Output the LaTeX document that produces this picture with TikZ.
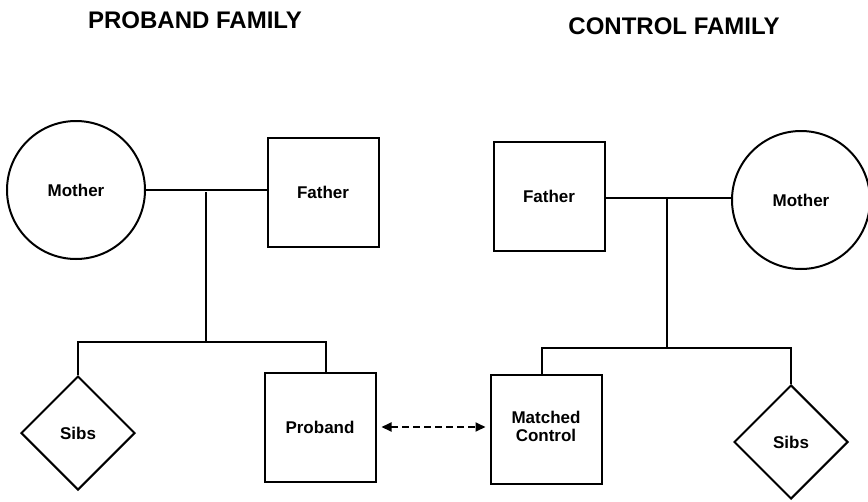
\documentclass[tikz,border=0pt]{standalone}
\usepackage{fontspec}
\setmainfont{Liberation Sans}
\usetikzlibrary{shapes.geometric,arrows.meta}
\begin{document}
\begin{tikzpicture}[x=1pt,y=-1pt,
  every node/.style={font=\fontsize{17}{19}\selectfont\bfseries},
  person/.style={draw,line width=2pt,inner sep=0pt},
  female/.style={person,circle,minimum size=138pt},
  male/.style={person,rectangle,minimum width=111pt,minimum height=109pt},
  sibship/.style={person,diamond,shape aspect=1,minimum size=114pt},
  title/.style={font=\fontsize{24}{27}\selectfont\bfseries},
  link/.style={line width=2pt},
  match/.style={line width=1.8pt,dash pattern=on 7pt off 4pt,{Triangle[length=10pt,width=9pt]}-{Triangle[length=10pt,width=9pt]}}]
\useasboundingbox (0,0) rectangle (868,501);
% titles
\node[title] (t1) at (195,20) {PROBAND FAMILY};
\node[title] (t2) at (674,26) {CONTROL FAMILY};
% proband family
\node[female] (motherL) at (76,190) {Mother};
\node[male] (fatherL) at (323,192) {Father};
\node[sibship] (sibsL) at (78,433) {Sibs};
\node[male] (proband) at (320,427) {Proband};
\coordinate (mL) at (206,192);
\coordinate (sL) at (206,342);
\draw[link] (motherL.east) -- (motherL.east -| fatherL.west);
\draw[link] (mL) -- (sL);
\draw[link] (sibsL.north) |- (sL) -| ([xshift=6pt]proband.north);
% control family
\node[male] (fatherR) at (549,196) {Father};
\node[female] (motherR) at (801,200) {Mother};
\node[male] (matched) at (546,429) {\begin{tabular}{@{}c@{}}Matched\\[-1pt]Control\end{tabular}};
\node[sibship] (sibsR) at (791,442) {Sibs};
\coordinate (mR) at (667,198);
\coordinate (sR) at (667,348);
\draw[link] (fatherR.east |- mR) -- (mR -| motherR.west);
\draw[link] (mR) -- (sR);
\draw[link] ([xshift=-4pt]matched.north) |- (sR) -| (sibsR.north);
% match link
\draw[match,shorten <=5pt,shorten >=4pt] (proband.east) -- (matched.west |- proband.east);
\end{tikzpicture}
\end{document}
